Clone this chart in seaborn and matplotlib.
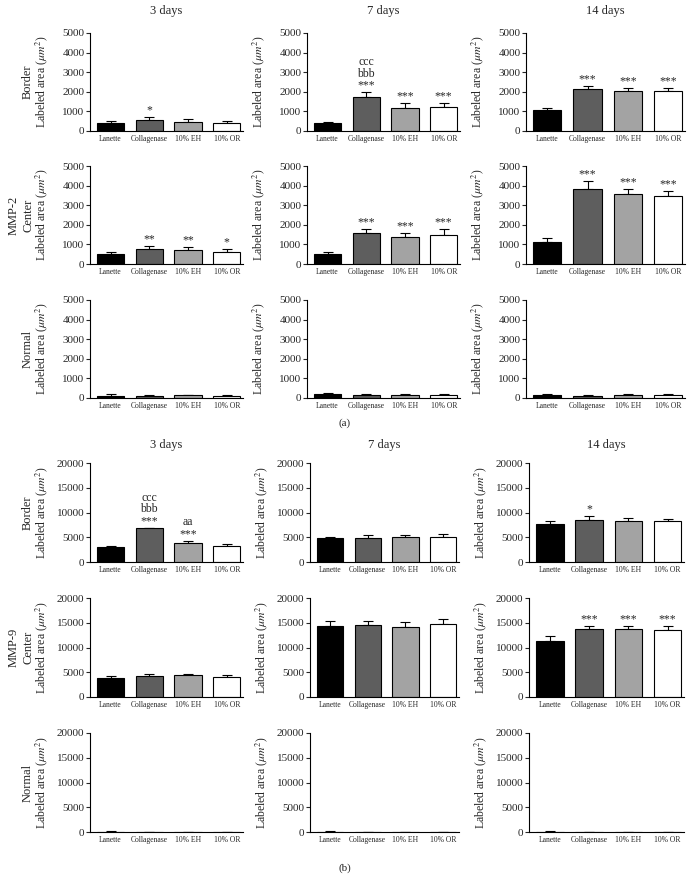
import numpy as np
import pandas as pd
import matplotlib
matplotlib.use("Agg")
import matplotlib.pyplot as plt
import seaborn as sns

categories = ["Lanette", "Collagenase", "10% EH", "10% OR"]
days = ["3 days", "7 days", "14 days"]
colors = ["#000000", "#5e5e5e", "#a3a3a3", "#ffffff"]

# MMP-2 (panel a) means and upper error (per day: 3, 7, 14)
mmp2_border_mean = [[390, 560, 475, 390], [390, 1760, 1190, 1200], [1050, 2120, 2020, 2020]]
mmp2_border_err = [[120, 150, 150, 135], [50, 220, 220, 205], [100, 190, 150, 170]]
mmp2_center_mean = [[500, 780, 695, 615], [530, 1560, 1390, 1475], [1110, 3810, 3595, 3480]]
mmp2_center_err = [[115, 135, 150, 150], [85, 215, 200, 300], [200, 415, 230, 250]]
mmp2_normal_mean = [[120, 110, 130, 110], [185, 170, 170, 135], [150, 120, 130, 130]]
mmp2_normal_err = [[60, 60, 30, 60], [60, 20, 50, 50], [50, 20, 50, 50]]

# MMP-9 (panel b)
mmp9_border_mean = [[3000, 6800, 3870, 3200], [4900, 4900, 4970, 5100], [7730, 8530, 8330, 8270]]
mmp9_border_err = [[270, 150, 460, 470], [200, 530, 460, 530], [600, 800, 540, 400]]
mmp9_center_mean = [[3870, 4270, 4470, 4130], [14440, 14640, 14170, 14830], [11330, 13670, 13730, 13470]]
mmp9_center_err = [[460, 330, 200, 340], [860, 790, 1000, 870], [1000, 660, 540, 860]]
mmp9_normal_mean = [[80, 70, 70, 60], [80, 70, 70, 60], [80, 70, 70, 60]]
mmp9_normal_err = [[30, 30, 30, 30], [30, 30, 30, 30], [30, 30, 30, 30]]

# significance labels
mmp2_border_sig = [["", "*", "", ""], ["", "ccc\nbbb\n***", "***", "***"], ["", "***", "***", "***"]]
mmp2_center_sig = [["", "**", "**", "*"], ["", "***", "***", "***"], ["", "***", "***", "***"]]
mmp2_normal_sig = [["", "", "", ""]] * 3
mmp9_border_sig = [["", "ccc\nbbb\n***", "aa\n***", ""], ["", "", "", ""], ["", "*", "", ""]]
mmp9_center_sig = [["", "", "", ""], ["", "", "", ""], ["", "***", "***", "***"]]
mmp9_normal_sig = [["", "", "", ""]] * 3

sns.set_style("white")
plt.rcParams["font.family"] = ["Liberation Serif", "DejaVu Serif"]
plt.rcParams["mathtext.fontset"] = "stix"

W, H = 689, 881
fig = plt.figure(figsize=(W / 100, H / 100), dpi=100)

panels = [
    dict(name="(a)", label_y=423, title_y=11, tops=[33, 166, 300], h=98,
         lefts=[90, 307, 526], widths=[153, 153, 159], ymax=5000, step=1000,
         rows=[("Border", mmp2_border_mean, mmp2_border_err, mmp2_border_sig),
               ("MMP-2\nCenter", mmp2_center_mean, mmp2_center_err, mmp2_center_sig),
               ("Normal", mmp2_normal_mean, mmp2_normal_err, mmp2_normal_sig)]),
    dict(name="(b)", label_y=868, title_y=445, tops=[463, 598, 733], h=99,
         lefts=[90, 310, 529], widths=[153, 149, 155], ymax=20000, step=5000,
         rows=[("Border", mmp9_border_mean, mmp9_border_err, mmp9_border_sig),
               ("MMP-9\nCenter", mmp9_center_mean, mmp9_center_err, mmp9_center_sig),
               ("Normal", mmp9_normal_mean, mmp9_normal_err, mmp9_normal_sig)]),
]

for p in panels:
    for r, (rlabel, means, errs, sigs) in enumerate(p["rows"]):
        top = p["tops"][r]
        h = p["h"]
        fig.text(21 / W if "\n" in rlabel else 28 / W, 1 - (top + h / 2) / H, rlabel,
                 rotation=90, ha="center", va="center", multialignment="center",
                 fontsize=9, linespacing=1.3)
        for c in range(3):
            left = p["lefts"][c]
            w = p["widths"][c]
            ax = fig.add_axes([left / W, 1 - (top + h) / H, w / W, h / H])
            df = pd.DataFrame({"group": categories, "value": means[c]})
            sns.barplot(data=df, x="group", y="value", hue="group", palette=colors,
                        legend=False, width=0.7, edgecolor="black", linewidth=0.8,
                        errorbar=None, ax=ax, zorder=2)
            ax.errorbar(np.arange(4), means[c], yerr=[np.zeros(4), errs[c]], fmt="none",
                        ecolor="black", elinewidth=0.8, capsize=3.5, capthick=0.8, zorder=1)
            for i, s in enumerate(sigs[c]):
                if s:
                    ax.annotate(s, xy=(i, means[c][i] + errs[c][i]), xytext=(0, 0.5),
                                textcoords="offset points", ha="center", va="bottom",
                                fontsize=8.5, linespacing=0.95)
            ax.set_xlim(-0.53, 3.42)
            ax.set_ylim(0, p["ymax"])
            ax.set_yticks(np.arange(0, p["ymax"] + 1, p["step"]))
            ax.tick_params(axis="y", labelsize=8, length=3, width=0.8, pad=1, direction="out", left=True)
            ax.tick_params(axis="x", labelsize=5.5, length=0, pad=3)
            ax.set_xlabel("")
            ax.set_ylabel(r"Labeled area ($\mu m^2$)", fontsize=8.5)
            ax.yaxis.set_label_coords(-40 / w, 0.5)
            for sp in ["top", "right"]:
                ax.spines[sp].set_visible(False)
            for sp in ["left", "bottom"]:
                ax.spines[sp].set_linewidth(0.8)
                ax.spines[sp].set_color("black")
            if r == 0:
                fig.text((left + w / 2) / W, 1 - p["title_y"] / H, days[c],
                         ha="center", va="center", fontsize=9)
    fig.text(345 / W, 1 - p["label_y"] / H, p["name"], ha="center", va="center", fontsize=8)

fig.savefig("out.png", dpi=100)
